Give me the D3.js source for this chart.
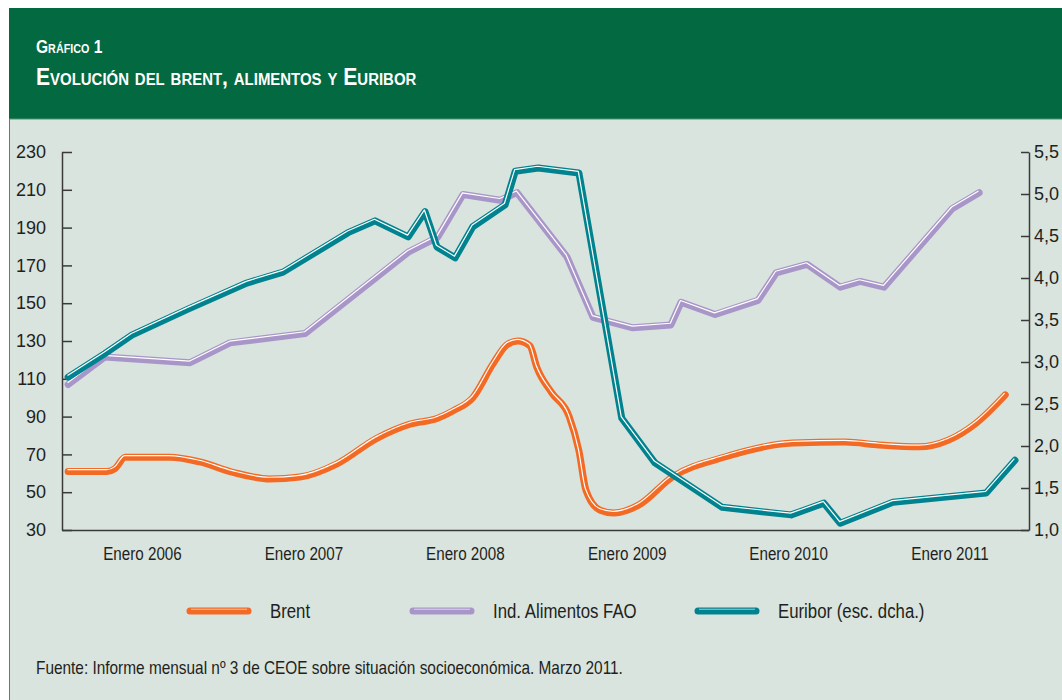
<!DOCTYPE html>
<meta charset="utf-8">
<style>
body { margin: 0; background: #fff; }
svg { display: block; }
.sans { font-family: "Liberation Sans", Arial, sans-serif; }
.axis text { font-family: "Liberation Sans", Arial, sans-serif; font-size: 18px; fill: #231f20; }
.axis path, .axis line { stroke: #3a3a3a; stroke-width: 1.5px; }
.xaxis text { font-size: 19px; }
</style>
<script src="https://d3js.org/d3.v7.min.js"></script>
<body>
<svg id="chart" width="1062" height="700"></svg>
<script>

// ---- data ----
var brentDates = ["2005-07-18","2005-10-14","2005-11-01","2005-11-24","2006-03-05","2006-05-12","2006-07-26","2006-10-17","2006-12-24","2007-03-18","2007-06-16","2007-08-30","2007-10-30","2007-12-05","2008-01-19","2008-03-05","2008-04-05","2008-04-30","2008-05-27","2008-06-12","2008-07-16","2008-08-24","2008-09-15","2008-10-01","2008-11-02","2008-12-03","2009-01-27","2009-04-14","2009-08-09","2010-01-12","2010-05-10","2010-07-26","2010-10-24","2010-12-29","2011-03-02","2011-05-07"];
var brentValues = [61,61,62.5,68.5,68.5,66,60.5,57,58,65,78.5,86,89,93,100,118,128,130,127.5,116,102.5,90,72,51,40.5,39,43,58,68.5,76,76.5,75,74,77.5,86.5,101.5];

var faoDates = ["2005-07-18","2005-10-09","2006-04-20","2006-07-19","2007-01-05","2007-08-26","2007-11-01","2007-12-28","2008-03-21","2008-04-28","2008-08-19","2008-10-17","2009-01-15","2009-04-11","2009-05-04","2009-07-20","2009-10-25","2009-12-05","2010-02-13","2010-04-29","2010-06-13","2010-08-06","2011-01-07","2011-03-09"];
var faoValues = [107,121.5,118.5,129,134,177,185,207.5,204.5,208.5,174.5,142.5,137,138.5,150.5,144,151.5,166,170.5,158.5,161.5,158.5,200,208.5];

var euriborDates = ["2005-07-18","2005-10-09","2005-12-09","2006-04-15","2006-08-26","2006-11-16","2007-04-12","2007-06-12","2007-08-26","2007-10-03","2007-10-30","2007-12-10","2008-01-19","2008-04-01","2008-04-24","2008-06-15","2008-09-15","2008-12-21","2009-03-06","2009-08-05","2010-01-08","2010-03-23","2010-04-29","2010-08-26","2011-03-25","2011-05-29"];
var euriborValues = [2.82,3.10,3.32,3.63,3.94,4.07,4.54,4.68,4.49,4.79,4.37,4.24,4.61,4.87,5.27,5.31,5.25,2.33,1.80,1.27,1.18,1.32,1.08,1.33,1.44,1.83];

var leftTicks = [30,50,70,90,110,130,150,170,190,210,230];
var rightTicks = [1.0,1.5,2.0,2.5,3.0,3.5,4.0,4.5,5.0,5.5];
var yearTicks = ["2006-01-01","2007-01-01","2008-01-01","2009-01-01","2010-01-01","2011-01-01"];

var seriesNames = ["Brent","Ind. Alimentos FAO","Euribor (esc. dcha.)"];
var seriesColors = ["#f26a24","#a996c9","#00838f"];

// ---- layout ----
var plotLeft = 62, plotRight = 1029, plotTop = 152, plotBottom = 530;
var squeeze = 0.8;   // fake a condensed face
var parse = d3.timeParse("%Y-%m-%d");

var svg = d3.select("#chart");

function narrowText(sel, tx, ty, k) {
  return sel.append("text").attr("class", "sans")
      .attr("transform", "translate(" + tx + "," + ty + ") scale(" + (k || squeeze) + ",1)");
}

// header and panel
svg.append("rect").attr("x", 9).attr("y", 8).attr("width", 1053).attr("height", 111).attr("fill", "#026940");
svg.append("rect").attr("x", 9).attr("y", 119).attr("width", 1053).attr("height", 581).attr("fill", "#d9e4de");
svg.append("line").attr("x1", 9.5).attr("x2", 9.5).attr("y1", 119).attr("y2", 700)
    .attr("stroke", "#3f8f67").attr("stroke-width", 1);
svg.append("line").attr("x1", 9).attr("x2", 1062).attr("y1", 119).attr("y2", 119)
    .attr("stroke", "#4c9673").attr("stroke-width", 1);

narrowText(svg, 36, 53, 0.82)
    .attr("fill", "#fff").attr("font-weight", "bold").attr("font-size", 19)
    .style("font-variant", "small-caps")
    .text("Gráfico 1");
narrowText(svg, 36, 85, 0.88)
    .attr("fill", "#fff").attr("font-weight", "bold").attr("font-size", 24)
    .style("font-variant", "small-caps")
    .text("Evolución del brent, alimentos y Euribor");

// scales: Jan 2006 sits at 142px, one year = 161.5px
var anchor = d3.scaleTime()
    .domain([parse("2006-01-01"), parse("2011-01-01")])
    .range([142, 142 + 5 * 161.5]);
var x = d3.scaleTime()
    .domain([anchor.invert(plotLeft), anchor.invert(plotRight)])
    .range([plotLeft, plotRight]);
var yL = d3.scaleLinear().domain([30, 230]).range([plotBottom, plotTop]);
var yR = d3.scaleLinear().domain([1, 5.5]).range([plotBottom, plotTop]);

var es = d3.formatLocale({decimal: ",", thousands: ".", grouping: [3], currency: ["", " €"]});
var fmtYear = d3.timeFormat("%Y");

// axes
svg.append("g").attr("class", "axis")
    .attr("transform", "translate(" + plotLeft + ",0)")
    .call(d3.axisLeft(yL).tickValues(leftTicks).tickSize(-10).tickSizeOuter(0).tickPadding(16));

svg.append("g").attr("class", "axis")
    .attr("transform", "translate(" + plotRight + ",0)")
    .call(d3.axisRight(yR).tickValues(rightTicks).tickSize(-8).tickSizeOuter(0).tickPadding(5)
      .tickFormat(es.format(".1f")));

var xAxis = svg.append("g").attr("class", "axis xaxis")
    .attr("transform", "translate(0," + plotBottom + ")")
    .call(d3.axisBottom(x).tickValues(yearTicks.map(parse)).tickSize(0).tickSizeOuter(0).tickPadding(17)
      .tickFormat(function(d) { return "Enero " + fmtYear(d); }));
xAxis.selectAll(".tick text").attr("transform", "scale(" + squeeze + ",1)");

// lines
function zip(dates, values) {
  return dates.map(function(d, i) { return {date: parse(d), value: values[i]}; });
}
var series = [
  {data: zip(brentDates, brentValues), y: yL, curve: d3.curveMonotoneX},
  {data: zip(faoDates, faoValues), y: yL, curve: d3.curveLinear},
  {data: zip(euriborDates, euriborValues), y: yR, curve: d3.curveLinear}
];

series.forEach(function(s, i) {
  var line = d3.line()
      .x(function(d) { return x(d.date); })
      .y(function(d) { return s.y(d.value); })
      .curve(s.curve);
  var g = svg.append("g");
  g.append("path").datum(s.data)
      .attr("d", line)
      .attr("fill", "none")
      .attr("stroke", seriesColors[i])
      .attr("stroke-width", 7)
      .attr("stroke-linejoin", "round")
      .attr("stroke-linecap", "round");
  g.append("path").datum(s.data)
      .attr("d", line)
      .attr("fill", "none")
      .attr("stroke", "#fff")
      .attr("stroke-width", 1.2)
      .attr("stroke-linejoin", "round")
      .attr("transform", "translate(-0.6,-1.7)");
});

// legend
var legendX = [190, 413, 698];
seriesNames.forEach(function(name, i) {
  var lx = legendX[i], ly = 611;
  svg.append("line")
      .attr("x1", lx).attr("x2", lx + 58).attr("y1", ly).attr("y2", ly)
      .attr("stroke", seriesColors[i]).attr("stroke-width", 7).attr("stroke-linecap", "round");
  svg.append("line")
      .attr("x1", lx + 1).attr("x2", lx + 57).attr("y1", ly - 1.8).attr("y2", ly - 1.8)
      .attr("stroke", "#fff").attr("stroke-opacity", 0.6).attr("stroke-width", 1.1);
  narrowText(svg, lx + 80, ly + 7)
      .attr("font-size", 21).attr("fill", "#231f20")
      .text(name);
});

// source
narrowText(svg, 36, 674, 0.88)
    .attr("font-size", 17.5).attr("fill", "#231f20")
    .text("Fuente: Informe mensual nº 3 de CEOE sobre situación socioeconómica. Marzo 2011.");

</script>
</body>
